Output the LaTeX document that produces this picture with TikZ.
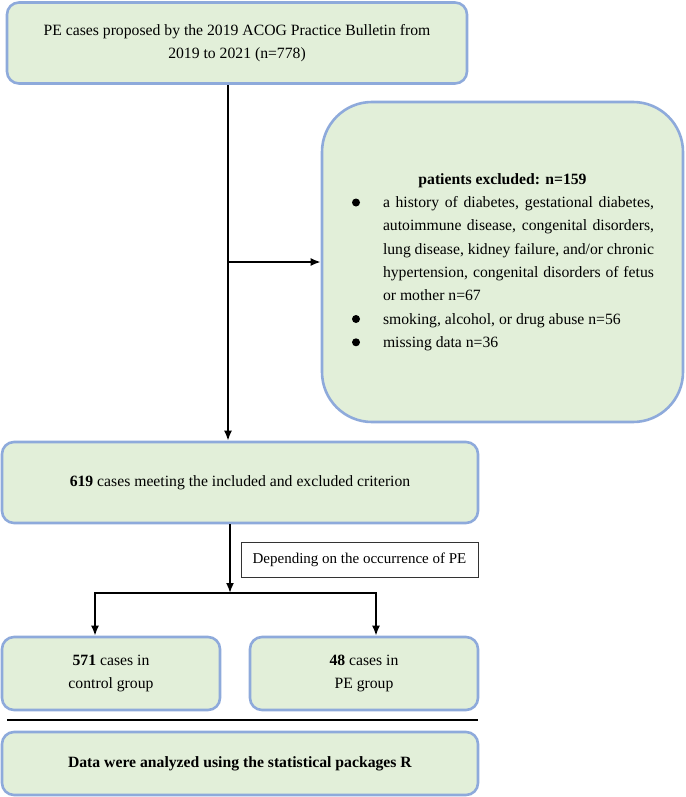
\documentclass[tikz,border=0pt]{standalone}
\usepackage{fontspec}
\setmainfont{Liberation Serif}
\usetikzlibrary{arrows.meta,positioning,calc}
\definecolor{boxfill}{HTML}{E2EFD9}
\definecolor{boxline}{HTML}{8EAADB}
\newcommand{\exitem}{\par\noindent\hangindent=32pt\hangafter=1\makebox[32pt][l]{\hspace{1pt}\tikz[baseline=-5pt]\fill (0,0) circle (4pt);}}

\begin{document}
\begin{tikzpicture}[x=1pt, y=-1pt,
    stage/.style={rectangle, draw=boxline, fill=boxfill, line width=2.6pt, rounded corners=12pt, align=center, inner sep=0pt},
    note/.style={rectangle, draw=black!80, fill=white, line width=0.6pt, inner sep=0pt},
    flow/.style={line width=1.8pt, -{Latex[length=10pt,width=8pt]}},
    every node/.style={font=\fontsize{15.7}{23.3}\selectfont}]
    \useasboundingbox (0,0) rectangle (685,797);

    \node (source) [stage, minimum width=460pt, minimum height=81pt] at (237,43)
    {PE cases proposed by the 2019 ACOG Practice Bulletin from\\2019 to 2021 (n=778)};

    \node (excluded) [stage, rounded corners=50pt, minimum width=361pt, minimum height=320pt, text width=303pt, align=justify] at (502.5,262)
    {
        {\centering\textbf{patients excluded: n=159}\par}
        \exitem a history of diabetes, gestational diabetes,\linebreak autoimmune disease, congenital disorders,\linebreak lung disease, kidney failure, and/or chronic\linebreak hypertension, congenital disorders of fetus\linebreak or mother n=67
        \exitem smoking, alcohol, or drug abuse n=56
        \exitem missing data n=36
    };

    \node (eligible) [stage, minimum width=476pt, minimum height=81pt] at (240,482.5)
    {\textbf{619} cases meeting the included and excluded criterion};

    \node (depend) [note, minimum width=237pt, minimum height=35pt, font=\fontsize{15}{20}\selectfont] at (359.5,559.5) {Depending on the occurrence of PE};

    \node (control) [stage, minimum width=218pt, minimum height=73pt] at (111,673.5) {\textbf{571} cases in\\control group};
    \node (pe) [stage, minimum width=228pt, minimum height=73pt] at (364,673.5) {\textbf{48} cases in\\PE group};

    \node (analysis) [stage, minimum width=476pt, minimum height=63pt] at (240,763.5)
    {\textbf{Data were analyzed using the statistical packages R}};

    \coordinate (trunk) at (228,0);
    \coordinate (split) at (230,593);
    \coordinate (forkL) at (95,593);
    \coordinate (forkR) at (376,593);

    \draw [flow] (source.south -| trunk) -- (eligible.north -| trunk);
    \draw [flow] (trunk |- excluded.west) -- (excluded.west);
    \draw [flow] (eligible.south -| split) -- (split);
    \draw [flow] (split) -- (forkL) -- (forkL |- control.north);
    \draw [flow] (split) -- (forkR) -- (forkR |- pe.north);

    \draw [line width=2.4pt] (7,720) -- (478,720);
\end{tikzpicture}
\end{document}
